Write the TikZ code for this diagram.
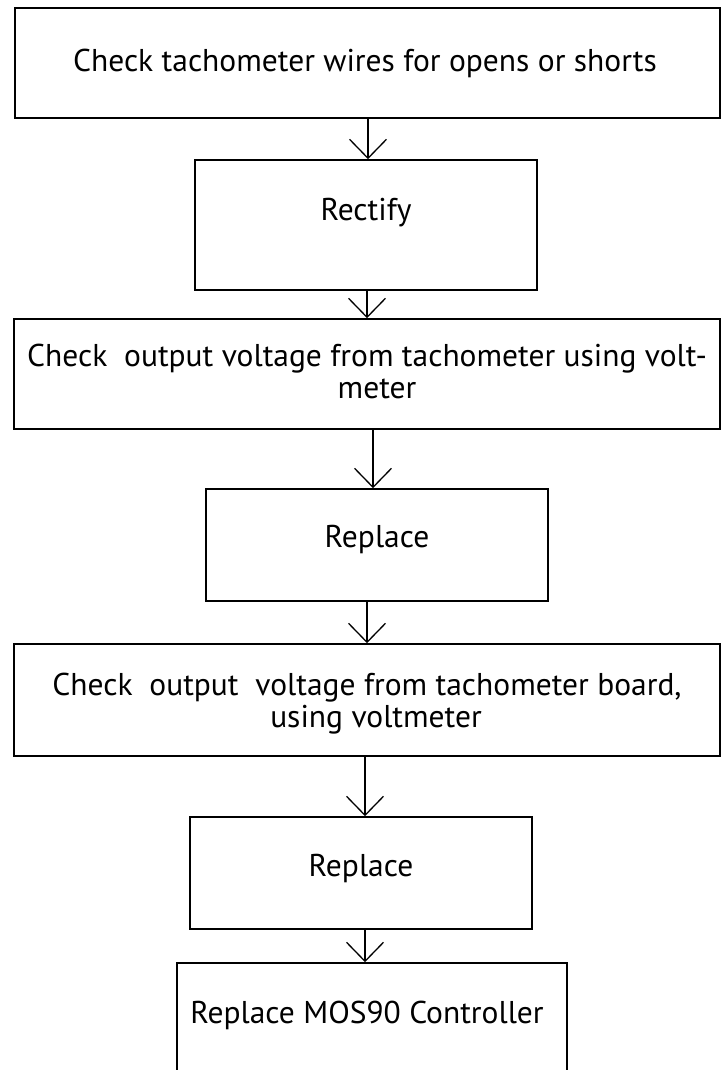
\documentclass[tikz,border=0pt]{standalone}
\usepackage{fontspec}
\setmainfont{PT Sans}
\usetikzlibrary{arrows.meta}
\begin{document}
\begin{tikzpicture}[x=1pt,y=-1pt,
  box/.style={draw,line width=1.6pt,inner sep=0pt},
  lbl/.style={font=\fontsize{31.5}{32}\selectfont,align=center,inner sep=0pt,anchor=base},
  arr/.style={line width=1.3pt,-{Straight Barb[length=19pt,width=37pt,line width=1.3pt]}}]
\useasboundingbox (0,0) rectangle (726,1070);
% boxes
\node[box,minimum width=705pt,minimum height=110pt] (b1) at (367.5,63) {};
\node[box,minimum width=342pt,minimum height=130pt] (b2) at (366,225) {};
\node[box,minimum width=706pt,minimum height=110pt] (b3) at (367,374) {};
\node[box,minimum width=342pt,minimum height=112pt] (b4) at (377,545) {};
\node[box,minimum width=706pt,minimum height=112pt] (b5) at (367,700) {};
\node[box,minimum width=342pt,minimum height=112pt] (b6) at (361,873) {};
\node[box,minimum width=390pt,minimum height=120pt] (b7) at (372,1023) {};
% labels
\node[lbl] (t1) at (365,72) {Check tachometer wires for opens or shorts};
\node[lbl] (t2) at (366,220) {Rectify};
\node[lbl] (t3) at (367,398) {Check\ \ output voltage from tachometer using volt-\\\hspace*{20pt}meter};
\node[lbl] (t4) at (377,547) {Replace};
\node[lbl] (t5) at (367,727) {Check\ \ output\ \ voltage from tachometer board,\\\hspace*{18pt}using voltmeter};
\node[lbl] (t6) at (361,876) {Replace};
\node[lbl] (t7) at (367,1023) {Replace MOS90 Controller};
% arrows
\draw[arr] (b1.south -| 368,0) -- (b2.north -| 368,0);
\draw[arr] (b2.south -| 367,0) -- (b3.north -| 367,0);
\draw[arr] (b3.south -| 373,0) -- (b4.north -| 373,0);
\draw[arr] (b4.south -| 367,0) -- (b5.north -| 367,0);
\draw[arr] (b5.south -| 365,0) -- (b6.north -| 365,0);
\draw[arr] (b6.south -| 365,0) -- (b7.north -| 365,0);
\end{tikzpicture}
\end{document}
